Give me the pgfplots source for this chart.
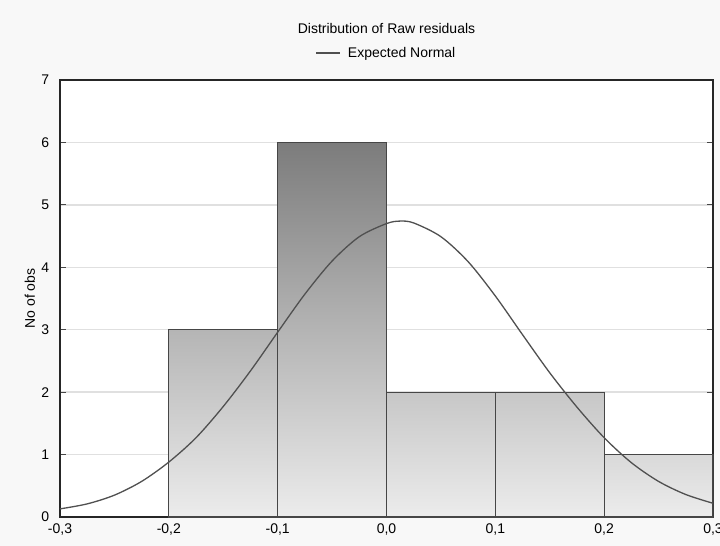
\documentclass[border=0pt]{standalone}
\usepackage{fontspec}
\setmainfont{Liberation Sans}
\usepackage{pgfplots}
\pgfplotsset{compat=1.18}

\definecolor{bg}{RGB}{248,248,248}
\definecolor{edge}{RGB}{70,70,70}
\definecolor{curve}{RGB}{80,80,80}
\definecolor{g0}{RGB}{236,236,236}
\definecolor{g1}{RGB}{217,217,217}
\definecolor{g2}{RGB}{199,199,199}
\definecolor{g3}{RGB}{181,181,181}
\definecolor{g6}{RGB}{124,124,124}

\begin{document}
\fontsize{14}{16}\selectfont
\begin{tikzpicture}
\fill[bg] (-60pt,-29pt) rectangle (660pt,517pt);
\path[use as bounding box] (-60pt,-29pt) rectangle (660pt,517pt);
\begin{axis}[
  at={(0pt,0pt)}, anchor=south west,
  scale only axis,
  width=653pt, height=437pt,
  xmin=-0.3, xmax=0.3,
  ymin=0, ymax=7,
  xtick={-0.3,-0.2,-0.1,0,0.1,0.2,0.3},
  ytick={0,1,2,3,4,5,6,7},
  /pgf/number format/assume math mode=true,
  /pgf/number format/use comma,
  xticklabel style={yshift=-2pt, /pgf/number format/fixed, /pgf/number format/fixed zerofill, /pgf/number format/precision=1},
  tick label style={font=\fontsize{14}{16}\selectfont},
  yticklabel style={xshift=-6pt},
  xtick style={draw=none},
  ytick style={draw=edge, line width=1.2pt},
  tick align=inside,
  major tick length=6pt,
  ymajorgrids,
  grid style={draw=black!12, line width=1.5pt},
  axis line style={draw=black!85, line width=1.6pt},
  axis background/.style={fill=white},
  title={Distribution of Raw residuals},
  title style={at={(0.5,1)}, anchor=center, yshift=46pt, font=\fontsize{14}{16}\selectfont},
  ylabel={No of obs},
  ylabel style={at={(axis description cs:-0.046,0.5)}, anchor=center, font=\fontsize{14}{16}\selectfont},
  legend style={at={(0.5,1)}, anchor=center, yshift=27pt, draw=none, fill=none,
    font=\fontsize{14}{16}\selectfont,
    /tikz/every odd column/.append style={column sep=5pt}},
  legend image code/.code={\draw[#1] (0pt,0pt) -- (24pt,0pt);},
]
\addplot[ybar interval, draw=edge, line width=1.2pt, top color=g3, bottom color=g0, forget plot]
  coordinates {(-0.2,3) (-0.1,3)};
\addplot[ybar interval, draw=edge, line width=1.2pt, top color=g6, bottom color=g0, forget plot]
  coordinates {(-0.1,6) (0.0,6)};
\addplot[ybar interval, draw=edge, line width=1.2pt, top color=g2, bottom color=g0, forget plot]
  coordinates {(0.0,2) (0.1,2)};
\addplot[ybar interval, draw=edge, line width=1.2pt, top color=g2, bottom color=g0, forget plot]
  coordinates {(0.1,2) (0.2,2)};
\addplot[ybar interval, draw=edge, line width=1.2pt, top color=g1, bottom color=g0, forget plot]
  coordinates {(0.2,1) (0.3,1)};

\addplot[sharp plot, smooth, draw=curve, line width=1.3pt, mark=none] coordinates {
  (-0.300,0.13) (-0.275,0.21) (-0.250,0.35) (-0.225,0.57) (-0.200,0.88)
  (-0.175,1.27) (-0.150,1.77) (-0.125,2.34) (-0.100,2.96) (-0.075,3.57)
  (-0.050,4.10) (-0.025,4.49) (0.000,4.70) (0.0125,4.74) (0.025,4.71)
  (0.050,4.49) (0.075,4.09) (0.100,3.54) (0.125,2.92) (0.150,2.31)
  (0.175,1.76) (0.200,1.27) (0.225,0.87) (0.250,0.57) (0.275,0.36)
  (0.300,0.22)
};
\addlegendentry{Expected Normal}
\end{axis}
\end{tikzpicture}
\end{document}
